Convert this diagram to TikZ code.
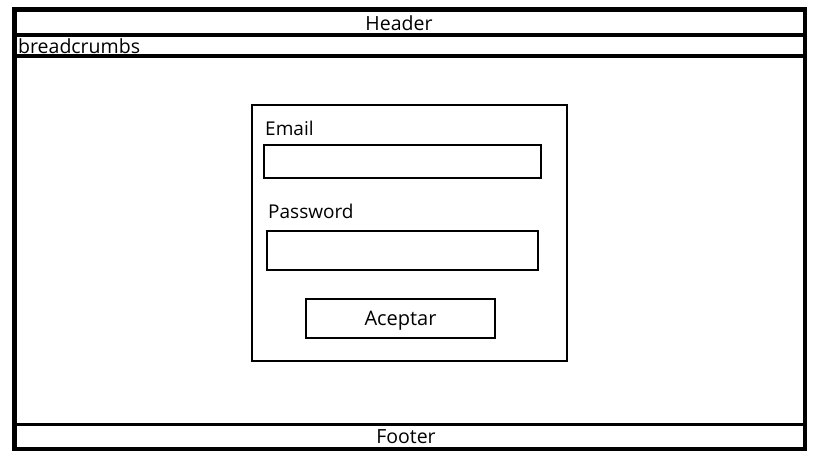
\documentclass[tikz,border=0pt]{standalone}
\usepackage{fontspec}
\setmainfont{Open Sans}
\usetikzlibrary{positioning}

\tikzset{
  band/.style={line width=3.5pt},
  field/.style={draw, line width=2pt, inner sep=0pt},
  lbl/.style={inner sep=0pt, anchor=west, font=\fontsize{19}{22}\selectfont}
}

\begin{document}
\begin{tikzpicture}[x=1pt, y=-1pt]
    \useasboundingbox (0,0) rectangle (819,460);
    % page frame and bands
    \draw[line width=4.5pt] (14.5,9.5) rectangle (805,449);
    \draw[band] (14.5,35) -- (805,35);
    \draw[band] (14.5,56) -- (805,56);
    \draw[band] (14.5,424.5) -- (805,424.5);
    \node (header) at (399,23) [inner sep=0pt, font=\fontsize{19.5}{22}\selectfont] {Header};
    \node (crumbs) at (18,46) [inner sep=0pt, anchor=west, font=\fontsize{19.5}{22}\selectfont] {breadcrumbs};
    \node (footer) at (406,437) [inner sep=0pt, font=\fontsize{19.5}{22}\selectfont] {Footer};
    % login form
    \node (form) at (409.5,233) [field, minimum width=315pt, minimum height=256pt] {};
    \node (emaillbl) at (265,128) [lbl] {Email};
    \node (email) at (402.5,161.5) [field, minimum width=277pt, minimum height=33pt] {};
    \node (passlbl) at (268,211) [lbl] {Password};
    \node (pass) at (402.5,250.5) [field, minimum width=271pt, minimum height=39pt] {};
    \node (ok) at (400.5,318.5) [field, minimum width=189pt, minimum height=39pt,
        text depth=0pt, font=\fontsize{20}{23}\selectfont] {Aceptar};
\end{tikzpicture}
\end{document}
